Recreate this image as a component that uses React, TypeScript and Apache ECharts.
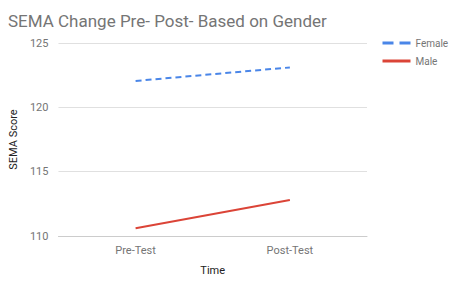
import React, { useEffect, useRef } from "react";
import * as echarts from "echarts";

const categories = ["Pre-Test", "Post-Test"];
const femaleValues = [122.05, 123.1];
const maleValues = [110.6, 112.8];
const yTicks = { min: 110, max: 125, interval: 5 };

export default function App() {
  const ref = useRef<HTMLDivElement>(null);
  useEffect(() => {
    const chart = echarts.init(ref.current!, undefined, { renderer: "svg" });
    chart.setOption({
      animation: false,
      textStyle: { fontFamily: "Roboto" },
      title: {
        text: "SEMA Change Pre- Post- Based on Gender",
        left: 3,
        top: 7,
        textStyle: { fontSize: 17, fontWeight: "normal", color: "#757575", fontFamily: "Roboto" },
      },
      legend: {
        orient: "vertical",
        left: 381,
        top: 38,
        itemWidth: 28,
        itemHeight: 10,
        itemGap: 8,
        padding: 0,
        textStyle: { fontSize: 10, color: "#757575" },
        itemStyle: { color: "rgba(0,0,0,0)", borderWidth: 0, opacity: 0 },
        lineStyle: { width: 3 },
        data: [
          { name: "Female", lineStyle: { width: 3, type: [11, 6] } },
          { name: "Male", lineStyle: { width: 3 } },
        ],
      },
      grid: { left: 52, right: 83, top: 43, bottom: 66 },
      xAxis: {
        type: "category",
        data: categories,
        boundaryGap: true,
        name: "Time",
        nameLocation: "middle",
        nameGap: 29,
        nameTextStyle: { fontSize: 11, color: "#222" },
        axisLine: { lineStyle: { color: "#cccccc" } },
        axisTick: { show: false },
        axisLabel: { fontSize: 11, color: "#757575", margin: 9 },
      },
      yAxis: {
        type: "value",
        min: yTicks.min,
        max: yTicks.max,
        interval: yTicks.interval,
        name: "SEMA Score",
        nameLocation: "middle",
        nameGap: 36,
        nameTextStyle: { fontSize: 11, color: "#222" },
        axisLine: { show: false },
        axisTick: { show: false },
        axisLabel: { fontSize: 11, color: "#757575", margin: 10 },
        splitLine: { lineStyle: { color: "#e0e0e0" } },
      },
      series: [
        {
          name: "Female",
          type: "line",
          data: femaleValues,
          symbol: "none",
          color: "#4a86e8",
          lineStyle: { width: 2, type: [6, 4], color: "#4a86e8" },
        },
        {
          name: "Male",
          type: "line",
          data: maleValues,
          symbol: "none",
          color: "#db4437",
          lineStyle: { width: 2, color: "#db4437" },
        },
      ],
    });
    return () => chart.dispose();
  }, []);
  return <div ref={ref} style={{ width: 450, height: 302, position: "absolute", left: 0, top: 0 }} />;
}
